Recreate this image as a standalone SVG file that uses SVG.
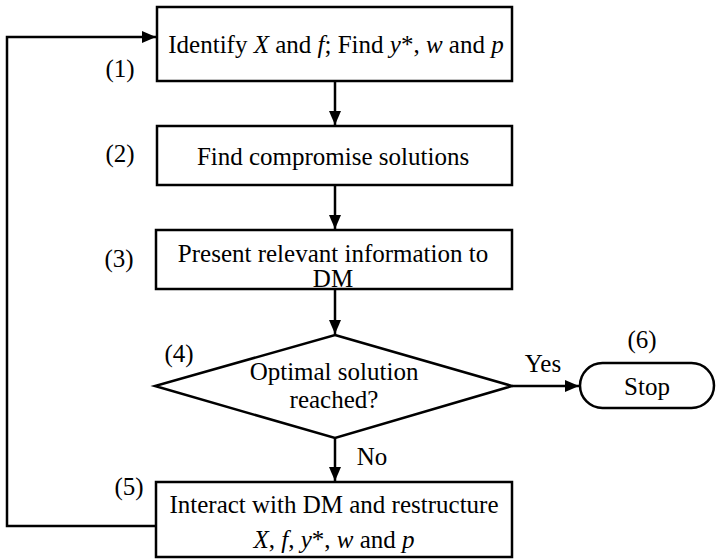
<svg xmlns="http://www.w3.org/2000/svg" width="716" height="559" viewBox="0 0 716 559">
<style>
.b{fill:#fff;stroke:#000;stroke-width:2.5}
.t{font-family:"Liberation Serif","Times New Roman",serif;font-size:25px;fill:#000;text-anchor:middle}
.i{font-style:italic}
.c{fill:none;stroke:#000;stroke-width:2.5}
</style>
<defs>
<marker id="ah" markerWidth="14" markerHeight="12" refX="14" refY="6" orient="auto" markerUnits="userSpaceOnUse">
<path d="M0,0 L14,6 L0,12 Z" fill="#000"/>
</marker>
</defs>
<rect width="716" height="559" fill="#fff"/>
<g id="connectors">
<path class="c" d="M335,81 V125" marker-end="url(#ah)"/>
<path class="c" d="M335,185 V229" marker-end="url(#ah)"/>
<path class="c" d="M335,289 V334" marker-end="url(#ah)"/>
<path class="c" d="M335,438 V481" marker-end="url(#ah)"/>
<path class="c" d="M512,386 H579" marker-end="url(#ah)"/>
<path class="c" d="M156,526 H7 V37 H156" marker-end="url(#ah)"/>
<text class="t" x="543" y="372">Yes</text>
<text class="t" x="372" y="465">No</text>
</g>
<g id="n1">
<rect class="b" x="157" y="7" width="355" height="74"/>
<text class="t" x="336" y="53">Identify <tspan class="i">X</tspan> and <tspan class="i">f</tspan>; Find <tspan class="i">y</tspan>*, <tspan class="i">w</tspan> and <tspan class="i">p</tspan></text>
<text class="t" x="120" y="77">(1)</text>
</g>
<g id="n2">
<rect class="b" x="157" y="126" width="355" height="59"/>
<text class="t" x="333" y="165">Find compromise solutions</text>
<text class="t" x="120" y="162">(2)</text>
</g>
<g id="n3">
<rect class="b" x="156" y="230" width="356" height="59"/>
<text class="t" x="333" y="262">Present relevant information to</text>
<text class="t" x="333" y="287">DM</text>
<text class="t" x="119" y="267">(3)</text>
</g>
<g id="n4">
<path class="b" d="M335,335 L512,386 L335,438 L155,386 Z"/>
<text class="t" x="334" y="380">Optimal solution</text>
<text class="t" x="334" y="408">reached?</text>
<text class="t" x="179" y="362">(4)</text>
</g>
<g id="n5">
<rect class="b" x="156" y="482" width="356" height="75"/>
<text class="t" x="334" y="513">Interact with DM and restructure</text>
<text class="t" x="334" y="548"><tspan class="i">X</tspan>, <tspan class="i">f</tspan>, <tspan class="i">y</tspan>*, <tspan class="i">w</tspan> and <tspan class="i">p</tspan></text>
<text class="t" x="129" y="495">(5)</text>
</g>
<g id="n6">
<rect class="b" x="580" y="363" width="134" height="45" rx="22.5"/>
<text class="t" x="647" y="395">Stop</text>
<text class="t" x="642" y="348">(6)</text>
</g>
</svg>
